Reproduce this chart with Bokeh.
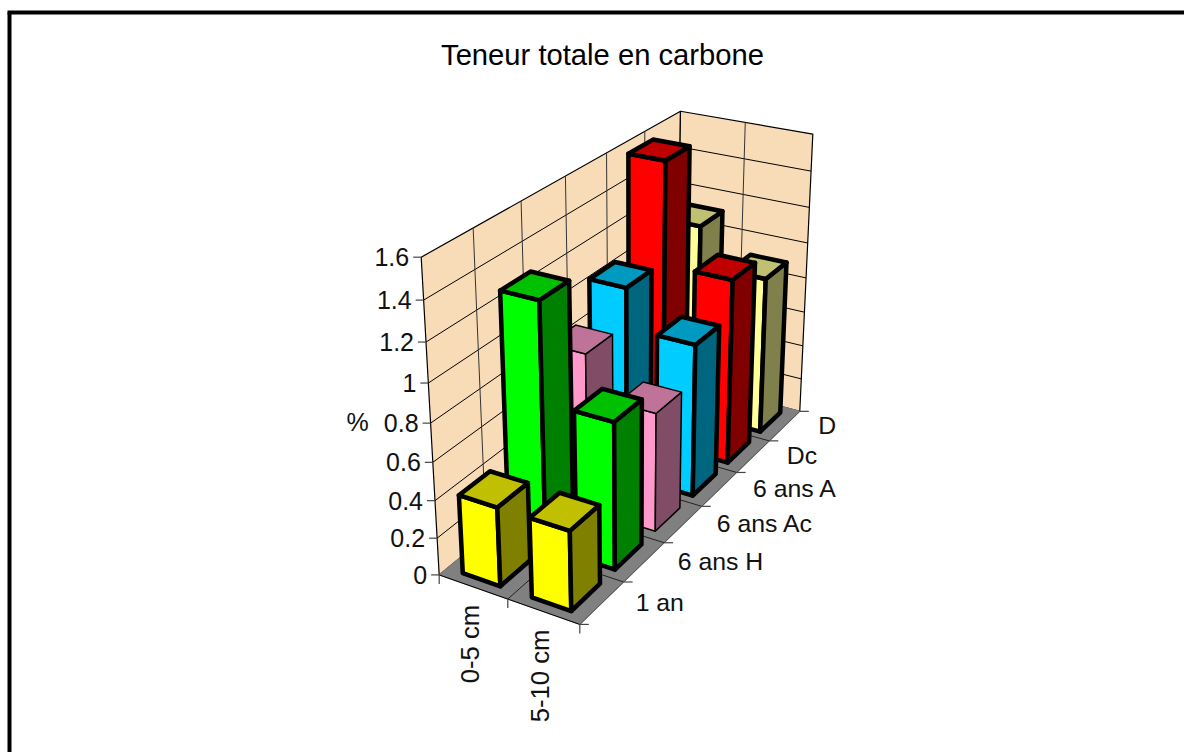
import numpy as np
from bokeh.plotting import figure
from bokeh.embed import file_html
from bokeh.resources import INLINE
from bokeh.core.properties import value

TITLE = "Teneur totale en carbone"
CATEGORIES = ["0-5 cm", "5-10 cm"]
SERIES = ["1 an", "6 ans H", "6 ans Ac", "6 ans A", "Dc", "D"]
Z_TICKS = [0, 0.2, 0.4, 0.6, 0.8, 1, 1.2, 1.4, 1.6]
V_1AN = [0.42, 0.42]
V_6H = [1.29, 0.78]
V_6AC = [0.86, 0.645]
V_6A = [1.055, 0.84]
V_DC = [1.59, 1.035]
V_D = [1.11, 0.895]
VALUES = [V_1AN, V_6H, V_6AC, V_6A, V_DC, V_D]
FRONT = ["#FFFF00", "#00FF00", "#FF99CC", "#00CCFF", "#FF0000", "#FFFF99"]
TOP = ["#C0C000", "#00C000", "#C07399", "#0099C0", "#C00000", "#C0C073"]
SIDE = ["#808000", "#008000", "#804C66", "#006680", "#800000", "#80804C"]
EDGE_W = [4.5, 4.5, 1.5, 4.5, 4.5, 4.5]
PAD_X, PAD_Y = 0.225, 0.175

# camera calibration: box corner -> screen pixel
world = [(0,0,0),(2,0,0),(2,6,0),(0,6,0),(0,0,1.6),(0,6,1.6),(2,6,1.6)]
screen = [(438.7,574.3),(579.3,624),(799.3,410.7),(676.6,379),(420.7,256.7),(680,110.7),(812.3,133.7)]
M = []
for (X,Y,Z),(u,v) in zip(world, screen):
    M.append([X,Y,Z,1,0,0,0,0,-u*X,-u*Y,-u*Z,-u])
    M.append([0,0,0,0,X,Y,Z,1,-v*X,-v*Y,-v*Z,-v])
P = np.linalg.svd(np.array(M, float))[2][-1].reshape(3,4)
def pr(x,y,z):
    a = P @ np.array([x,y,z,1.0])
    return a[0]/a[2], a[1]/a[2]
def quad(*pts):
    q = [pr(*c) for c in pts]
    return [c[0] for c in q],[c[1] for c in q]

p = figure(width=1184, height=752, x_range=(0,1184), y_range=(752,0), toolbar_location=None,
           output_backend="svg", min_border=0)
p.axis.visible = False
p.grid.visible = False
p.outline_line_color = None
p.background_fill_color = "white"
p.border_fill_color = "white"

# outer frame
p.line([9,9],[752,12], line_color="black", line_width=4)
p.line([7,1184],[12,12], line_color="black", line_width=4)

ZT, YM, XM = Z_TICKS[-1], len(SERIES), len(CATEGORIES)
WALL = "#F8DCB8"
def poly(x,y,fill,lc="black",lw=1.2):
    p.patch(x,y,fill_color=fill,line_color=lc,line_width=lw,line_join="round")
poly(*quad((0,0,0),(0,YM,0),(0,YM,ZT),(0,0,ZT)), WALL)
poly(*quad((0,YM,0),(XM,YM,0),(XM,YM,ZT),(0,YM,ZT)), WALL)
poly(*quad((0,0,0),(XM,0,0),(XM,YM,0),(0,YM,0)), "#808080", lc="#808080")

def seg(a,b,color="black",w=1):
    p.line([a[0],b[0]],[a[1],b[1]],line_color=color,line_width=w)
for z in Z_TICKS[1:-1]:
    seg(pr(0,0,z),pr(0,YM,z)); seg(pr(0,YM,z),pr(XM,YM,z))
for y in range(1,YM):
    seg(pr(0,y,0),pr(0,y,ZT),"#333333")
for x in range(1,XM):
    seg(pr(x,YM,0),pr(x,YM,ZT),"#333333")
for y in range(1,YM):
    seg(pr(0,y,0),pr(XM,y,0),"#222222")
for x in range(1,XM):
    seg(pr(x,0,0),pr(x,YM,0),"#222222")
seg(pr(0,0,0),pr(XM,0,0)); seg(pr(XM,0,0),pr(XM,YM,0),"#555555")

# ticks and labels
lab = dict(text_color="#111111", text_font=value("Liberation Sans"), text_baseline="middle")
for z in Z_TICKS:
    a = pr(0,0,z); seg(a,(a[0]-8,a[1]),"#444444",1.2)
    p.text([a[0]-12],[a[1]],text=[f"{z:g}"],text_align="right",text_font_size="25px",**lab)
for x in range(XM+1):
    a = pr(x,0,0); seg(a,(a[0],a[1]+9),"#444444",1.2)
for i,c in enumerate(CATEGORIES):
    a = pr(i+.5,0,0)
    p.text([a[0]-3],[a[1]+18],text=[c],angle=np.pi/2,text_align="right",text_font_size="25.7px",**lab)
for y in range(YM+1):
    a = pr(XM,y,0); seg(a,(a[0]+9,a[1]),"#444444",1.2)
for j,s in enumerate(SERIES):
    a = pr(XM,j+.5,0)
    p.text([a[0]+33.5],[a[1]-0.5],text=[s],text_align="left",text_font_size="24.8px",**lab)
p.text([357],[421],text=["%"],text_align="center",text_font_size="25px",**lab)
p.text([602],[54],text=[TITLE],text_align="center",text_color="black",
       text_font=value("Liberation Sans"),text_font_size="29.2px",text_baseline="middle")

# bars, back to front
for j in range(YM-1,-1,-1):
    for i in range(XM):
        h = VALUES[j][i]
        x0,x1,y0,y1 = i+PAD_X, i+1-PAD_X, j+PAD_Y, j+1-PAD_Y
        w = EDGE_W[j]
        poly(*quad((x0,y0,0),(x1,y0,0),(x1,y0,h),(x0,y0,h)), FRONT[j], lw=w)
        poly(*quad((x1,y0,0),(x1,y1,0),(x1,y1,h),(x1,y0,h)), SIDE[j], lw=w)
        poly(*quad((x0,y0,h),(x1,y0,h),(x1,y1,h),(x0,y1,h)), TOP[j], lw=w)

open("out.html","w").write(file_html(p, INLINE))
